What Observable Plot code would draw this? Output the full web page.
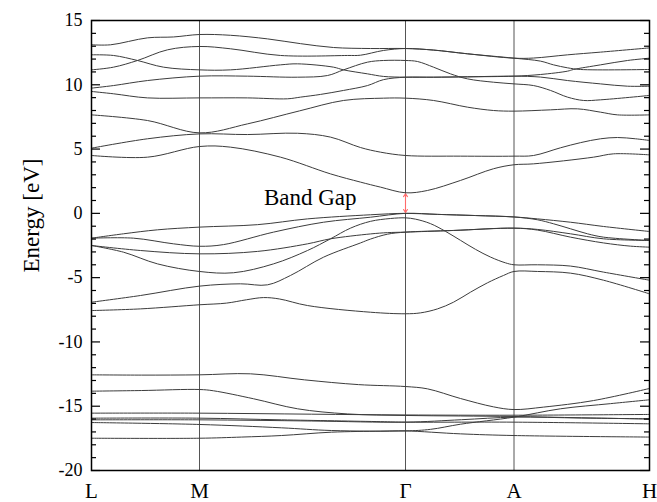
<!DOCTYPE html>
<html>
<head>
<meta charset="utf-8">
<script src="https://cdn.jsdelivr.net/npm/d3@7"></script>
<script src="https://cdn.jsdelivr.net/npm/@observablehq/plot@0.6"></script>
<style>
  html, body { margin: 0; padding: 0; background: #fff; }
</style>
</head>
<body>
<div id="chart"></div>
<script>
// High-symmetry points along the k-path
const kLabels = ["L", "M", "Γ", "A", "H"];
const kTicks = [0, 1.08, 3.14, 4.225, 5.58];

// Energy axis ticks (eV)
const energyTicks = [-20, -15, -10, -5, 0, 5, 10, 15];

// Conduction bands: [k, E]
const conductionBands = [
  [[0,13.11],[0.19,13.11],[0.56,13.65],[0.82,13.72],[1.08,13.91],[1.39,13.85],[1.76,13.57],[2.09,13.2],[2.42,12.9],[2.79,12.82],[3.14,12.82],[3.42,12.7],[3.76,12.41],[4.225,12.07],[4.42,12.08],[4.76,12.33],[5.09,12.54],[5.58,12.87]],
  [[0,11.16],[0.22,11.37],[0.46,11.89],[0.76,12.72],[1.08,12.98],[1.39,12.8],[1.89,12.28],[2.56,12.28],[2.69,12.3],[2.92,12.67],[3.14,12.82],[3.42,12.7],[3.76,12.41],[4.225,12.07],[4.49,11.84],[4.62,11.55],[4.76,11.32],[4.89,11.19],[5.58,11.19]],
  [[0,12.33],[0.22,12.28],[0.46,11.89],[0.72,11.37],[1.08,11.16],[1.39,11.16],[1.89,11.55],[2.06,11.63],[2.42,11.37],[2.52,11.16],[2.76,10.85],[2.92,10.65],[3.14,10.59],[3.42,10.59],[3.76,10.62],[4.225,10.67],[4.49,10.8],[4.76,11.06],[4.82,11.19],[5.09,11.55],[5.36,11.89],[5.58,12.07]],
  [[0,9.74],[0.22,9.94],[0.56,10.33],[1.08,10.67],[1.56,10.67],[2.06,10.59],[2.36,10.72],[2.52,11.16],[2.76,11.76],[2.92,11.89],[3.14,11.89],[3.26,11.81],[3.42,11.37],[3.59,10.85],[3.76,10.46],[4.02,10.2],[4.225,10.07],[4.42,9.94],[4.59,9.56],[4.76,9.04],[4.92,8.78],[5.09,8.83],[5.58,9.17]],
  [[0,9.48],[0.22,9.3],[0.56,8.98],[1.08,8.98],[1.56,8.98],[1.96,8.91],[2.09,9.04],[2.29,9.25],[2.52,9.56],[2.76,9.94],[2.92,10.4],[3.14,10.59],[3.42,10.59],[3.76,10.62],[4.225,10.67],[4.49,10.6],[4.76,10.33],[5.09,10.07],[5.36,9.89],[5.58,9.89]],
  [[0,7.66],[0.56,7.22],[1.08,6.26],[1.56,6.96],[2.08,7.97],[2.52,8.78],[2.92,8.96],[3.14,8.96],[3.42,8.78],[3.76,8.26],[4.02,8.0],[4.225,7.95],[4.59,8.05],[4.86,8.13],[5.09,7.87],[5.26,7.66],[5.58,7.66]],
  [[0,5.07],[0.56,5.8],[1.08,6.18],[1.56,6.13],[2.06,6.23],[2.39,5.93],[2.69,5.12],[2.89,4.76],[3.14,4.5],[3.69,4.45],[4.225,4.45],[4.42,4.5],[4.69,5.1],[4.89,5.5],[5.09,5.8],[5.26,5.9],[5.44,5.8],[5.58,5.67]],
  [[0,4.5],[0.56,4.37],[1.08,5.2],[1.39,5.15],[1.89,4.37],[2.39,3.07],[2.69,2.43],[2.89,2.04],[3.14,1.6],[3.36,1.78],[3.69,2.56],[4.02,3.47],[4.225,3.78],[4.42,3.85],[5.02,4.37],[5.22,4.63],[5.58,4.55]]
];

// Upper valence bands
const valenceBands = [
  [[0,-1.93],[0.32,-1.59],[0.66,-1.28],[1.08,-1.07],[1.66,-0.88],[2.16,-0.43],[2.79,-0.11],[3.14,0.0],[3.46,-0.08],[3.84,-0.17],[4.225,-0.28],[4.46,-0.43],[4.79,-0.69],[5.12,-1.02],[5.58,-1.41]],
  [[0,-1.93],[0.42,-1.93],[0.82,-2.37],[1.08,-2.56],[1.32,-2.43],[1.82,-1.46],[2.32,-0.69],[2.79,-0.3],[3.14,0.0],[3.46,-0.08],[3.84,-0.17],[4.225,-0.28],[4.46,-0.5],[4.62,-0.81],[4.79,-1.2],[4.96,-1.59],[5.12,-1.85],[5.58,-2.11]],
  [[0,-2.5],[0.49,-2.89],[1.08,-3.15],[1.66,-2.96],[2.16,-2.37],[2.39,-1.98],[2.79,-1.6],[2.96,-1.5],[3.14,-1.46],[3.62,-1.33],[4.225,-1.15],[4.46,-1.25],[4.79,-1.59],[5.12,-1.98],[5.58,-2.11]],
  [[0,-2.5],[0.32,-3.02],[0.66,-3.93],[1.08,-4.52],[1.42,-4.62],[1.82,-3.93],[2.16,-2.89],[2.39,-1.98],[2.59,-1.15],[2.79,-0.62],[2.99,-0.4],[3.14,-0.35],[3.24,-0.45],[3.39,-0.8],[3.54,-1.4],[3.69,-2.1],[3.84,-2.8],[3.99,-3.4],[4.14,-3.85],[4.225,-4.0],[4.46,-4.0],[4.79,-4.1],[5.12,-4.57],[5.58,-5.2]],
  [[0,-6.91],[0.49,-6.39],[1.08,-5.66],[1.49,-5.48],[1.76,-5.56],[1.99,-4.83],[2.32,-3.41],[2.69,-2.3],[2.79,-2.0],[2.96,-1.62],[3.14,-1.46],[3.62,-1.33],[4.225,-1.15],[4.46,-1.3],[4.79,-1.85],[5.12,-2.3],[5.39,-2.55],[5.58,-2.63]],
  [[0,-7.56],[0.49,-7.43],[1.08,-7.11],[1.35,-6.98],[1.55,-6.72],[1.72,-6.55],[1.88,-6.66],[2.16,-7.17],[2.79,-7.69],[3.14,-7.81],[3.29,-7.74],[3.46,-7.43],[3.62,-6.91],[3.79,-6.13],[3.96,-5.4],[4.12,-4.83],[4.225,-4.52],[4.46,-4.52],[4.79,-4.65],[5.12,-5.2],[5.58,-6.26]]
];

// Semicore bands
const semicoreBands = [
  [[0,-12.56],[0.5,-12.58],[1.08,-12.56],[1.59,-12.48],[2.13,-12.95],[2.67,-13.32],[3.14,-13.47],[3.36,-13.65],[3.69,-14.4],[4.02,-15.05],[4.225,-15.26],[4.52,-15.07],[5.02,-14.56],[5.58,-13.62]],
  [[0,-13.83],[0.5,-13.78],[1.08,-13.7],[1.22,-13.8],[1.62,-14.42],[2.06,-15.2],[2.56,-15.6],[3.14,-15.72],[3.69,-15.76],[4.225,-15.8],[4.9,-15.9],[5.58,-16.0]],
  [[0,-15.54],[1.08,-15.54],[2.2,-15.62],[3.14,-15.68],[4.225,-15.7],[5.58,-15.64]],
  [[0,-15.93],[1.08,-15.93],[1.9,-16.06],[2.89,-16.2],[3.14,-16.24],[4.225,-16.24],[5.58,-16.37]],
  [[0,-16.06],[1.08,-16.06],[2.2,-16.15],[3.14,-16.24],[3.7,-16.05],[4.225,-15.85],[4.9,-15.92],[5.58,-15.98]],
  [[0,-16.27],[1.08,-16.42],[1.9,-16.68],[2.4,-16.89],[3.14,-16.92],[3.39,-16.8],[3.69,-16.4],[4.225,-15.85],[4.69,-15.2],[5.19,-14.8],[5.58,-14.5]],
  [[0,-17.49],[1.08,-17.49],[1.5,-17.4],[1.9,-17.28],[2.4,-17.02],[2.89,-16.94],[3.14,-16.92],[3.69,-17.15],[4.225,-17.28],[5.58,-17.4]]
];

const allBands = [...conductionBands, ...valenceBands, ...semicoreBands];
const rows = allBands.flatMap((band, i) => band.map(([k, e]) => ({band: i, k, e})));

// Band gap at Γ: top of the valence bands to bottom of the conduction bands
const kGamma = kTicks[kLabels.indexOf("Γ")];
const atGamma = (bands) => bands.map(b => b.find(([k]) => k === kGamma)[1]);
const vbm = d3.max(atGamma(valenceBands));
const cbm = d3.min(atGamma(conductionBands));
const gapMid = (vbm + cbm) / 2;
// two heads pointing outward from the middle of the gap
const gapArrows = [{k: kGamma, from: gapMid, to: cbm}, {k: kGamma, from: gapMid, to: vbm}];

const minorTicks = d3.range(energyTicks[0], energyTicks[energyTicks.length - 1] + 1).filter(v => v % 5 !== 0);

const W = 657, H = 502, mL = 91, mR = 8, mT = 20, mB = 32;
const frameW = W - mL - mR;

const chart = Plot.plot({
  width: W,
  height: H,
  marginLeft: mL,
  marginRight: mR,
  marginTop: mT,
  marginBottom: mB,
  style: {fontFamily: "'Liberation Serif', 'Times New Roman', serif", background: "#fff", color: "#000"},
  x: {domain: [kTicks[0], kTicks[kTicks.length - 1]]},
  y: {domain: [energyTicks[0], energyTicks[energyTicks.length - 1]]},
  marks: [
    Plot.ruleX(kTicks.slice(1, -1), {stroke: "#555", strokeWidth: 1}),
    Plot.line(rows, {x: "k", y: "e", z: "band", stroke: "#3c3c3c", strokeWidth: 1, curve: "catmull-rom"}),
    Plot.arrow(gapArrows, {x1: "k", x2: "k", y1: "from", y2: "to", stroke: "#ff6a6a", strokeWidth: 1.1, headLength: 7, headAngle: 70, insetEnd: 1}),
    Plot.text([gapMid], {x: () => kGamma, y: d => d, text: () => "Band Gap", textAnchor: "end", dx: -49, dy: -5, fontSize: 23, fill: "#000"}),
    // inward tick marks on the left and right edges
    Plot.tickY(minorTicks, {y: d => d, insetRight: frameW - 5, stroke: "#000", strokeWidth: 1.2}),
    Plot.tickY(minorTicks, {y: d => d, insetLeft: frameW - 5, stroke: "#000", strokeWidth: 1.2}),
    Plot.tickY(energyTicks, {y: d => d, insetRight: frameW - 9, stroke: "#000", strokeWidth: 1.2}),
    Plot.tickY(energyTicks, {y: d => d, insetLeft: frameW - 9, stroke: "#000", strokeWidth: 1.2}),
    Plot.axisY(energyTicks, {tickSize: 0, tickPadding: 9, fontSize: 18, tickFormat: d => String(d), label: null}),
    Plot.axisX(kTicks, {tickSize: 0, tickPadding: 13, fontSize: 21, tickFormat: d => kLabels[kTicks.indexOf(d)], label: null}),
    Plot.text(["Energy [eV]"], {frameAnchor: "left", textAnchor: "middle", rotate: -90, dx: -60, dy: -30, fontSize: 23, fill: "#000"}),
    Plot.frame({stroke: "#000", strokeWidth: 1.5})
  ]
});

document.getElementById("chart").appendChild(chart);
</script>
</body>
</html>
